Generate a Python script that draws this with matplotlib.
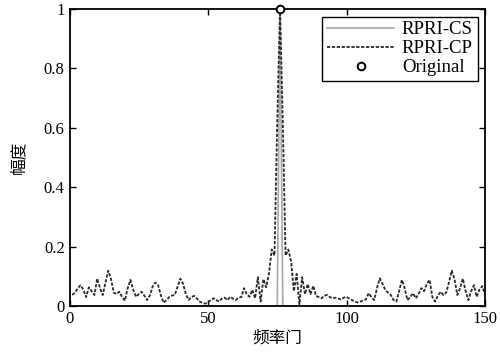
import matplotlib
matplotlib.use('Agg')
import matplotlib.pyplot as plt
import numpy as np

# frequency gates (1..150)
gate = np.arange(1, 151)

# RPRI-CP amplitude
cp = [0.037, 0.045, 0.060, 0.070, 0.055, 0.030, 0.063, 0.050, 0.037, 0.092,
      0.060, 0.037, 0.080, 0.119, 0.090, 0.045, 0.040, 0.048, 0.030, 0.018,
      0.060, 0.088, 0.055, 0.031, 0.040, 0.048, 0.035, 0.020, 0.035, 0.065,
      0.079, 0.070, 0.035, 0.011, 0.020, 0.030, 0.035, 0.037, 0.065, 0.092,
      0.075, 0.040, 0.020, 0.030, 0.034, 0.025, 0.015, 0.010, 0.008, 0.012,
      0.020, 0.026, 0.020, 0.015, 0.025, 0.028, 0.020, 0.031, 0.025, 0.020,
      0.028, 0.030, 0.060, 0.040, 0.031, 0.054, 0.026, 0.097, 0.015, 0.090,
      0.063, 0.108, 0.190, 0.170, 0.620, 1.000, 0.620, 0.170, 0.190, 0.150,
      0.050, 0.108, 0.006, 0.097, 0.040, 0.074, 0.040, 0.068, 0.034, 0.030,
      0.026, 0.035, 0.037, 0.030, 0.026, 0.028, 0.025, 0.022, 0.028, 0.031,
      0.025, 0.020, 0.015, 0.012, 0.015, 0.018, 0.022, 0.043, 0.030, 0.020,
      0.060, 0.093, 0.075, 0.054, 0.045, 0.037, 0.020, 0.015, 0.050, 0.088,
      0.060, 0.020, 0.030, 0.043, 0.026, 0.040, 0.060, 0.050, 0.075, 0.088,
      0.030, 0.015, 0.035, 0.048, 0.037, 0.045, 0.080, 0.119, 0.090, 0.037,
      0.060, 0.092, 0.050, 0.020, 0.050, 0.070, 0.031, 0.055, 0.067, 0.037]

# RPRI-CS: single spike at the target gate
cs = np.zeros(150)
cs[75] = 1.0

# original target
orig_x = [76]
orig_y = [1.0]

plt.rcParams['font.family'] = ['Liberation Serif', 'Noto Sans CJK SC']
plt.rcParams['font.size'] = 12

fig = plt.figure(figsize=(5, 3.6), dpi=100)
ax = fig.add_axes([0.139, 0.15, 0.831, 0.825])

ax.plot(gate, cs, color='#a8a8a8', lw=1.2, label='RPRI-CS')
ax.plot(gate, cp, color='#2a2a2a', lw=1.3, ls=(0, (1.8, 0.9)), label='RPRI-CP')
ax.plot(orig_x, orig_y, 'o', mfc='white', mec='black', mew=1.4, ms=5.5,
        ls='none', label='Original', clip_on=False, zorder=5)

ax.set_xlim(0, 150)
ax.set_ylim(0, 1)
ax.set_xticks([0, 50, 100, 150])
ax.set_yticks([0, 0.2, 0.4, 0.6, 0.8, 1])
ax.set_yticklabels(['0', '0.2', '0.4', '0.6', '0.8', '1'])
ax.tick_params(direction='in', top=True, right=True, length=4, width=1)
for s in ax.spines.values():
    s.set_linewidth(1.3)

ax.set_xlabel('频率门', family=['Noto Sans CJK SC'], fontsize=12, labelpad=2)
ax.set_ylabel('幅度', family=['Noto Sans CJK SC'], fontsize=12, labelpad=12)

leg = ax.legend(loc='upper right', fancybox=False, edgecolor='black',
                framealpha=1, borderaxespad=0.4, handlelength=3.6,
                handletextpad=0.4, labelspacing=0.1, borderpad=0.25,
                fontsize=13.5)
leg.get_frame().set_linewidth(1.0)

fig.savefig('out.png', dpi=100)
